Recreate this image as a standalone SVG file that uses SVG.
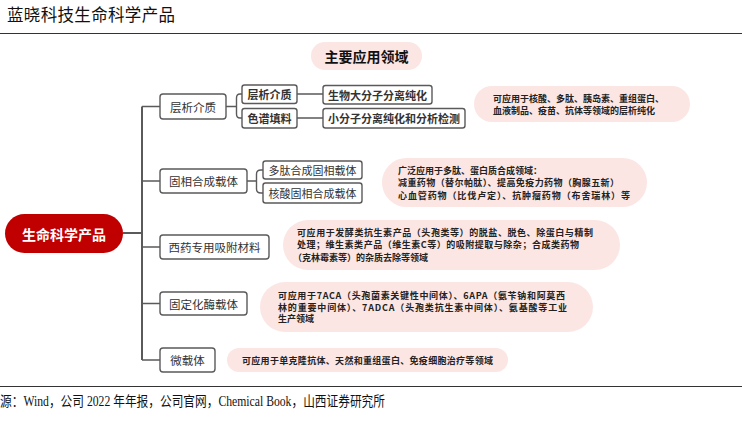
<svg xmlns="http://www.w3.org/2000/svg" width="742" height="424" viewBox="0 0 742 424">
<style>
text{font-family:"Noto Sans CJK SC","Liberation Sans",sans-serif;fill:#222}
.n1 rect{fill:#fff;stroke:#5a5a5a;stroke-width:1.4}
.n1 text{font-size:11.5px;text-anchor:middle;dominant-baseline:central;fill:#333}
.n2 rect{fill:#fff;stroke:#5a5a5a;stroke-width:1.4}
.n2 text{font-size:11px;font-weight:bold;text-anchor:middle;dominant-baseline:central;fill:#333}
.d rect{fill:#fbe6e4}
.d text{font-size:9px;font-weight:bold;dominant-baseline:central;fill:#222}
.c path{fill:none;stroke:#5a5a5a;stroke-width:1.4}
</style>
<text x="7" y="21" textLength="168" style="font-size:16.5px;fill:#111">蓝晓科技生命科学产品</text>
<line x1="0" y1="33.5" x2="742" y2="33.5" stroke="#333" stroke-width="1.2"/>
<line x1="0" y1="386.5" x2="742" y2="386.5" stroke="#333" stroke-width="1.2"/>
<text x="0" y="406" textLength="385" lengthAdjust="spacingAndGlyphs" style="font-family:'Liberation Serif','Noto Sans CJK SC',serif;font-size:14px;fill:#111">源：Wind，公司 2022 年年报，公司官网，Chemical Book，山西证券研究所</text>

<g id="title">
<rect x="311" y="42" width="111" height="28" rx="14" fill="#fbe6e4"/>
<text x="366.5" y="56" style="font-size:14px;font-weight:bold;text-anchor:middle;dominant-baseline:central;fill:#111">主要应用领域</text>
</g>

<g id="connectors" class="c">
<path d="M123,233 H142" style="stroke-width:2"/>
<path d="M142,106.5 V360" style="stroke-width:2"/>
<path d="M142,106.5 H160 M142,181 H160 M142,247 H160 M142,303.5 H160 M142,360 H160"/>
<path d="M226,106.5 H236 M242,94 H240 Q236.5,94 236.5,98 V114 Q236.5,118 240,118 H242"/>
<path d="M297,94 H323 M297,118 H323"/>
<path d="M247,181 H256 M263,170 H261 Q256.5,170 256.5,174 V189 Q256.5,193 261,193 H263"/>
</g>

<g id="root">
<rect x="5" y="214" width="118" height="39" rx="19.5" fill="#c00000"/>
<text x="64" y="233.5" style="font-size:14px;font-weight:bold;fill:#fff;text-anchor:middle;dominant-baseline:central">生命科学产品</text>
</g>

<g id="n-chrom" class="n1"><rect x="160" y="94" width="66" height="25" rx="3"/><text x="193" y="106.5">层析介质</text></g>
<g id="n-solid" class="n1"><rect x="160" y="169" width="87" height="24" rx="3"/><text x="203.5" y="181">固相合成载体</text></g>
<g id="n-adsorb" class="n1"><rect x="160" y="235" width="109" height="24" rx="3"/><text x="214.5" y="247">西药专用吸附材料</text></g>
<g id="n-enzyme" class="n1"><rect x="160" y="292" width="87" height="23" rx="3"/><text x="203.5" y="303.5">固定化酶载体</text></g>
<g id="n-micro" class="n1"><rect x="160" y="348" width="55" height="24" rx="3"/><text x="187.5" y="360">微载体</text></g>

<g id="n-chrom2" class="n2"><rect x="242" y="85" width="55" height="18.5" rx="2.5"/><text x="269.5" y="94.2">层析介质</text></g>
<g id="n-fill" class="n2"><rect x="242" y="108.5" width="55" height="19.5" rx="2.5"/><text x="269.5" y="118.2">色谱填料</text></g>
<g id="n-bio" class="n2"><rect x="323" y="85.5" width="109" height="18.5" rx="2.5"/><text x="377.5" y="94.7">生物大分子分离纯化</text></g>
<g id="n-small" class="n2"><rect x="323" y="108.5" width="142" height="19.5" rx="2.5"/><text x="394" y="118.2">小分子分离纯化和分析检测</text></g>
<g id="n-peptide" class="n2"><rect x="263" y="161" width="99" height="18" rx="2.5"/><text x="312.5" y="170" style="font-weight:normal">多肽合成固相载体</text></g>
<g id="n-nucleic" class="n2"><rect x="263" y="183" width="99" height="20" rx="2.5"/><text x="312.5" y="193" style="font-weight:normal">核酸固相合成载体</text></g>

<g id="d1" class="d"><rect x="474" y="86" width="216" height="36" rx="18"/>
<text x="493" y="98.5" textLength="171">可应用于核酸、多肽、胰岛素、重组蛋白、</text>
<text x="493" y="110.5">血液制品、疫苗、抗体等领域的层析纯化</text></g>

<g id="d2" class="d"><rect x="382" y="158" width="265" height="49" rx="24.5"/>
<text x="398" y="170">广泛应用于多肽、蛋白质合成领域：</text>
<text x="398" y="182.5" textLength="221">减重药物（替尔帕肽）、提高免疫力药物（胸腺五新）</text>
<text x="398" y="195" textLength="232">心血管药物（比伐卢定）、抗肿瘤药物（布舍瑞林）等</text></g>

<g id="d3" class="d"><rect x="283" y="220" width="337" height="50" rx="25"/>
<text x="297" y="232" textLength="296">可应用于发酵类抗生素产品（头孢类等）的脱盐、脱色、除蛋白与精制</text>
<text x="297" y="244.5" textLength="282">处理；维生素类产品（维生素C等）的吸附提取与除杂；合成类药物</text>
<text x="293" y="257">（克林霉素等）的杂质去除等领域</text></g>

<g id="d4" class="d"><rect x="260" y="282" width="333" height="50" rx="25"/>
<text x="278" y="295" textLength="287">可应用于7ACA（头孢菌素关键性中间体）、6APA（氨苄钠和阿莫西</text>
<text x="278" y="307" textLength="289">林的重要中间体）、7ADCA（头孢类抗生素中间体）、氨基酸等工业</text>
<text x="278" y="318.5">生产领域</text></g>

<g id="d5" class="d"><rect x="227" y="348" width="281" height="24" rx="12"/>
<text x="242" y="360" textLength="251">可应用于单克隆抗体、天然和重组蛋白、免疫细胞治疗等领域</text></g>
</svg>
